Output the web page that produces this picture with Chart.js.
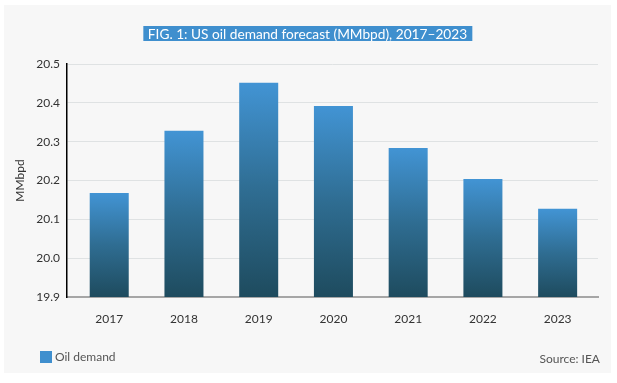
<!DOCTYPE html>
<html>
<head>
<meta charset="utf-8">
<script src="https://cdn.jsdelivr.net/npm/chart.js@4"></script>
<style>
  html, body { margin: 0; padding: 0; background: #ffffff; width: 617px; height: 383px; overflow: hidden; }
  #panel { position: absolute; left: 4px; top: 5px; width: 607px; height: 368px; background: #f7f7f7; font-family: Lato, "Open Sans", sans-serif; }
  #panel canvas { position: absolute; left: 0; top: 0; }
  #title { position: absolute; top: 21px; left: 50%; transform: translateX(-50%); background: #3f8fce; color: #ffffff; font-size: 13.7px; line-height: 15px; height: 15px; padding: 0 5px; white-space: nowrap; }
  #legend { position: absolute; left: 36px; top: 346px; font-size: 12px; color: #555; line-height: 12px; white-space: nowrap; }
  #legend .box { display: inline-block; width: 12px; height: 12px; background: #3f8fce; vertical-align: top; margin-right: 3px; }
  #source { position: absolute; right: 11px; top: 348px; font-size: 12px; color: #555; line-height: 12px; }
</style>
</head>
<body>
<div id="panel">
  <canvas id="c" width="607" height="368"></canvas>
  <div id="title"></div>
  <div id="legend"></div>
  <div id="source"></div>
</div>
<script>
const titleText = "FIG. 1: US oil demand forecast (MMbpd), 2017–2023";
const sourceText = "Source: IEA";
const seriesName = "Oil demand";
const yAxisTitle = "MMbpd";
const categories = ["2017", "2018", "2019", "2020", "2021", "2022", "2023"];
const oilDemand = [20.168, 20.328, 20.452, 20.392, 20.284, 20.204, 20.127];
const yTicks = [19.9, 20.0, 20.1, 20.2, 20.3, 20.4, 20.5];

document.getElementById("title").textContent = titleText;
document.getElementById("source").textContent = sourceText;
document.getElementById("legend").innerHTML = '<span class="box"></span>' + seriesName;

const years = categories.map(Number);
const points = years.map((x, i) => ({ x: x, y: oilDemand[i] }));

function barGradient(ctx) {
  const chart = ctx.chart;
  if (!chart.chartArea || ctx.parsed === undefined || ctx.parsed.y === undefined) return "#3f8fce";
  const ys = chart.scales.y;
  const top = ys.getPixelForValue(ctx.parsed.y);
  const bottom = ys.getPixelForValue(ys.min);
  const g = chart.ctx.createLinearGradient(0, top, 0, bottom);
  g.addColorStop(0, "#4294d4");
  g.addColorStop(0.5, "#2f6d92");
  g.addColorStop(1, "#1e4b5e");
  return g;
}

new Chart(document.getElementById("c"), {
  type: "bar",
  data: {
    datasets: [{
      label: seriesName,
      data: points,
      backgroundColor: barGradient,
      borderWidth: 0,
      categoryPercentage: 1,
      barPercentage: 0.522
    }]
  },
  options: {
    responsive: false,
    animation: false,
    devicePixelRatio: 1,
    layout: { padding: { top: 59, right: 13, bottom: 46, left: 0 } },
    plugins: { legend: { display: false }, title: { display: false }, tooltip: { enabled: false } },
    scales: {
      x: {
        type: "linear",
        offset: false,
        min: years[0] - 0.565,
        max: years[years.length - 1] + 0.54,
        afterBuildTicks: (s) => { s.ticks = years.map(v => ({ value: v })); },
        afterFit: (s) => { s.height = 30; },
        grid: { display: false, drawTicks: false, offset: false },
        border: { display: true, color: "#a6a6a6", width: 2 },
        ticks: {
          padding: 15,
          color: "#333",
          font: { family: "Lato", size: 12 },
          callback: (v) => categories[years.indexOf(v)] ?? ""
        }
      },
      y: {
        min: yTicks[0],
        max: yTicks[yTicks.length - 1],
        afterBuildTicks: (s) => { s.ticks = yTicks.map(v => ({ value: v })); },
        afterFit: (s) => { s.width = 63; },
        grid: { color: "#dfe2e3", lineWidth: 1, drawTicks: false },
        border: { display: true, color: "#000000", width: 1.5 },
        ticks: {
          padding: 7,
          color: "#333",
          font: { family: "Lato", size: 12 },
          callback: (v) => Number(v).toFixed(1)
        },
        title: {
          display: true,
          text: yAxisTitle,
          color: "#333",
          font: { family: "Lato", size: 12 },
          padding: { top: 9, bottom: 0 }
        }
      }
    }
  }
});
</script>
</body>
</html>
